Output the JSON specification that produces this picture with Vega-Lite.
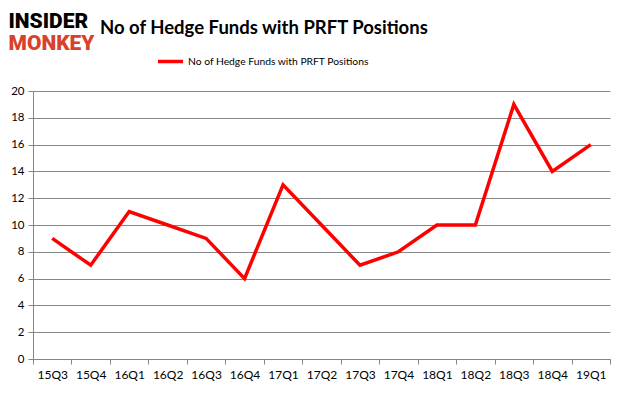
{
  "$schema": "https://vega.github.io/schema/vega-lite/v6.json",
  "autosize": {"type": "none"},
  "width": 577,
  "height": 268,
  "padding": {"left": 33, "top": 91, "right": 15, "bottom": 36},
  "background": "white",
  "title": {
    "text": "No of Hedge Funds with PRFT Positions",
    "anchor": "start",
    "frame": "group",
    "font": "Lato",
    "fontSize": 18.5,
    "fontWeight": "bold",
    "color": "#000000",
    "dx": 67,
    "dy": 27,
    "offset": 0
  },
  "data": {
    "values": [
      {"quarter": "15Q3", "funds": 9, "series": "No of Hedge Funds with PRFT Positions"},
      {"quarter": "15Q4", "funds": 7, "series": "No of Hedge Funds with PRFT Positions"},
      {"quarter": "16Q1", "funds": 11, "series": "No of Hedge Funds with PRFT Positions"},
      {"quarter": "16Q2", "funds": 10, "series": "No of Hedge Funds with PRFT Positions"},
      {"quarter": "16Q3", "funds": 9, "series": "No of Hedge Funds with PRFT Positions"},
      {"quarter": "16Q4", "funds": 6, "series": "No of Hedge Funds with PRFT Positions"},
      {"quarter": "17Q1", "funds": 13, "series": "No of Hedge Funds with PRFT Positions"},
      {"quarter": "17Q2", "funds": 10, "series": "No of Hedge Funds with PRFT Positions"},
      {"quarter": "17Q3", "funds": 7, "series": "No of Hedge Funds with PRFT Positions"},
      {"quarter": "17Q4", "funds": 8, "series": "No of Hedge Funds with PRFT Positions"},
      {"quarter": "18Q1", "funds": 10, "series": "No of Hedge Funds with PRFT Positions"},
      {"quarter": "18Q2", "funds": 10, "series": "No of Hedge Funds with PRFT Positions"},
      {"quarter": "18Q3", "funds": 19, "series": "No of Hedge Funds with PRFT Positions"},
      {"quarter": "18Q4", "funds": 14, "series": "No of Hedge Funds with PRFT Positions"},
      {"quarter": "19Q1", "funds": 16, "series": "No of Hedge Funds with PRFT Positions"}
    ]
  },
  "mark": {"type": "line", "strokeWidth": 3.5, "strokeJoin": "miter", "strokeCap": "butt"},
  "encoding": {
    "x": {
      "field": "quarter",
      "type": "ordinal",
      "sort": null,
      "scale": {"paddingInner": 0, "paddingOuter": 0},
      "axis": {
        "title": "MONKEY",
        "titleColor": "#d9412b",
        "titleFont": "Roboto",
        "titleFontWeight": 900,
        "titleFontSize": 21,
        "titleAlign": "left",
        "titleAnchor": null,
        "titleBaseline": "alphabetic",
        "titleAngle": 0,
        "titleX": -25,
        "titleY": -310,
        "labelAngle": 0,
        "labelFont": "Lato",
        "labelFontSize": 12,
        "labelColor": "#000000",
        "labelPadding": 5,
        "tickBand": "extent",
        "tickColor": "#868686",
        "tickSize": 5,
        "domainColor": "#868686",
        "grid": false
      }
    },
    "y": {
      "field": "funds",
      "type": "quantitative",
      "scale": {"domain": [0, 20]},
      "axis": {
        "title": "INSIDER",
        "titleColor": "#000000",
        "titleFont": "Roboto",
        "titleFontWeight": 900,
        "titleFontSize": 21,
        "titleAlign": "left",
        "titleAnchor": null,
        "titleBaseline": "alphabetic",
        "titleAngle": 0,
        "titleX": -25,
        "titleY": -64,
        "values": [0, 2, 4, 6, 8, 10, 12, 14, 16, 18, 20],
        "labelFont": "Lato",
        "labelFontSize": 11.5,
        "labelColor": "#000000",
        "labelPadding": 4,
        "tickColor": "#868686",
        "tickSize": 5,
        "domainColor": "#868686",
        "gridColor": "#868686",
        "gridWidth": 1
      }
    },
    "color": {
      "field": "series",
      "type": "nominal",
      "scale": {"range": ["#ff0000"]},
      "legend": {
        "title": null,
        "orient": "none",
        "legendX": 123,
        "legendY": -44,
        "symbolType": "stroke",
        "symbolStrokeWidth": 3.5,
        "symbolSize": 625,
        "labelFont": "Lato",
        "labelFontSize": 10.3,
        "labelLimit": 400,
        "labelColor": "#000000",
        "labelOffset": 3
      }
    }
  },
  "config": {
    "view": {"stroke": null}
  }
}
